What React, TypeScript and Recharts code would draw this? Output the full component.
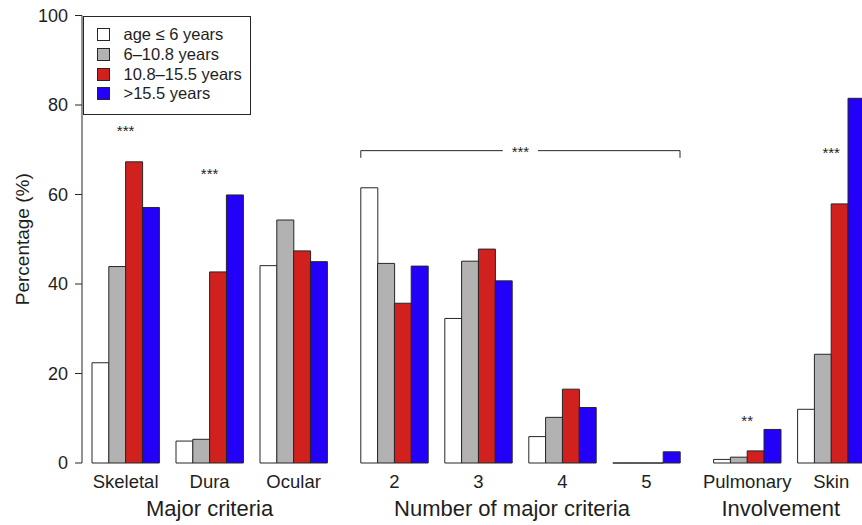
import React from 'react';
import { BarChart, Bar, XAxis, YAxis, ReferenceLine, ReferenceDot, Legend } from 'recharts';

// ---------- data ----------
const SECTION_TITLES = ['Major criteria', 'Number of major criteria', 'Involvement'];
const SECTION_CATEGORIES = [
  ['Skeletal', 'Dura', 'Ocular'],
  ['2', '3', '4', '5'],
  ['Pulmonary', 'Skin'],
];
const SERIES_NAMES = ['age \u2264 6 years', '6\u201310.8 years', '10.8\u201315.5 years', '>15.5 years'];
const AGE_LE_6 = [22.4, 4.9, 44.1, 61.5, 32.3, 5.9, 0, 0.8, 12.0];
const AGE_6_TO_10_8 = [43.9, 5.3, 54.3, 44.6, 45.1, 10.2, 0, 1.3, 24.3];
const AGE_10_8_TO_15_5 = [67.3, 42.7, 47.4, 35.7, 47.8, 16.5, 0, 2.7, 57.9];
const AGE_GT_15_5 = [57.1, 59.9, 45.0, 44.0, 40.7, 12.4, 2.5, 7.5, 81.5];
const Y_TICKS = [0, 20, 40, 60, 80, 100];
const GROUP_STARS = [
  { category: 'Skeletal', text: '***', y: 74.35 },
  { category: 'Dura', text: '***', y: 64.6 },
  { category: 'Pulmonary', text: '**', y: 9.5 },
  { category: 'Skin', text: '***', y: 69.3 },
];
const BRACKET = { from: '2', to: '5', text: '***', lineY: 69.8, tickY: 68.2, textY: 69.5 };

// ---------- style / layout ----------
const FONT = '"Liberation Sans", Arial, Helvetica, sans-serif';
const TEXT = '#1e1e1e';
const EDGE = '#262626';
const COLORS = ['#ffffff', '#b2b2b2', '#d0211f', '#2300f7'];
const SLOT_W = 16.8;
const AXIS_X = 82;
const PAD_LEFT = 10;
const PLOT_TOP = 15.5;
const TICK_AXIS_H = 26;
const TITLE_AXIS_H = 36;
const HEIGHT = 525;
const TITLE_POS = [7, 25, 41];
const BRACKET_GAP = 1.05;

const SERIES_VALUES = [AGE_LE_6, AGE_6_TO_10_8, AGE_10_8_TO_15_5, AGE_GT_15_5];
const CATEGORIES = SECTION_CATEGORIES.flat();

type Slot = { key: string; pos: number; value: number | null; series: number };
const slots: Slot[] = [];
const pushSlot = (value: number | null, series: number) =>
  slots.push({ key: `s${slots.length}`, pos: slots.length + 0.5, value, series });
const groupStart: Record<string, number> = {};
let ci = 0;
SECTION_CATEGORIES.forEach((cats, si) => {
  if (si > 0) pushSlot(null, -1);
  cats.forEach((cat) => {
    groupStart[cat] = slots.length;
    SERIES_VALUES.forEach((vals, k) => pushSlot(vals[ci], k));
    pushSlot(null, -1);
    ci++;
  });
});
slots.pop();
const N = slots.length;
const CHART_W = Math.ceil(AXIS_X + PAD_LEFT + N * SLOT_W);
const RIGHT_M = CHART_W - (AXIS_X + PAD_LEFT + N * SLOT_W);

const groupCenter = (c: string) => groupStart[c] + SERIES_NAMES.length / 2;
const CENTERS = CATEGORIES.map(groupCenter);
const centerLabel = new Map<number, string>(CATEGORIES.map((c) => [groupCenter(c), c]));
const titleLabel = new Map<number, string>(TITLE_POS.map((p, i) => [p, SECTION_TITLES[i]]));

const bracketL = groupStart[BRACKET.from];
const bracketR = groupStart[BRACKET.to] + SERIES_NAMES.length;
const bracketMid = (bracketL + bracketR) / 2;

const BarShape = (props: any) => {
  const { x, y, width, height, payload } = props;
  if (!payload || payload.value == null || payload.series < 0) return <g />;
  if (!Number.isFinite(x) || !Number.isFinite(y)) return <g />;
  const h = Number.isFinite(height) ? height : 0;
  const d = `M${x},${y}h${width}v${h}h${-width}Z`;
  return <path d={d} fill={COLORS[payload.series]} stroke={EDGE} strokeWidth={1} />;
};

const LegendBox = () => (
  <div
    style={{
      width: 168,
      height: 99,
      border: `1px solid ${EDGE}`,
      background: '#fff',
      boxSizing: 'border-box',
      fontFamily: FONT,
      fontSize: 16.5,
      color: TEXT,
      padding: '8.5px 0 0 13px',
    }}
  >
    {SERIES_NAMES.map((s, i) => (
      <div key={s} style={{ display: 'flex', alignItems: 'center', height: 19.7, whiteSpace: 'nowrap' }}>
        <span
          style={{
            display: 'inline-block',
            width: 13,
            height: 13,
            border: `1px solid ${EDGE}`,
            background: COLORS[i],
            boxSizing: 'border-box',
            marginRight: 14,
          }}
        />
        <span>{s}</span>
      </div>
    ))}
  </div>
);

const yLabel = (props: any) => {
  const vb = props.viewBox || { x: 0, y: PLOT_TOP, width: AXIS_X, height: 447.5 };
  const cx = vb.x + 28.6;
  const cy = vb.y + vb.height / 2;
  return (
    <text x={cx} y={cy} transform={`rotate(-90 ${cx} ${cy})`} textAnchor="middle" fontSize={19} fontFamily={FONT} fill={TEXT}>
      Percentage (%)
    </text>
  );
};

export default function App() {
  return (
    <div style={{ position: 'absolute', left: 0, top: 0, width: 862, height: HEIGHT, overflow: 'hidden', background: '#fff' }}>
      <BarChart
        width={CHART_W}
        height={HEIGHT}
        data={slots}
        margin={{ top: PLOT_TOP, right: RIGHT_M, bottom: 0, left: 0 }}
        barCategoryGap={0}
        barGap={0}
      >
        <XAxis xAxisId="slots" dataKey="key" type="category" hide height={0} padding={{ left: PAD_LEFT, right: 0 }} />
        <XAxis
          xAxisId="ticks"
          dataKey="pos"
          type="number"
          domain={[0, N]}
          allowDataOverflow
          ticks={CENTERS}
          interval={0}
          tickFormatter={(v: number) => centerLabel.get(v) ?? ''}
          axisLine={false}
          tickLine={false}
          tickSize={0}
          tickMargin={12}
          height={TICK_AXIS_H}
          padding={{ left: PAD_LEFT, right: 0 }}
          tick={{ fontSize: 18.5, fill: TEXT, fontFamily: FONT }}
        />
        <XAxis
          xAxisId="titles"
          dataKey="pos"
          type="number"
          domain={[0, N]}
          allowDataOverflow
          ticks={TITLE_POS}
          interval={0}
          tickFormatter={(v: number) => titleLabel.get(v) ?? ''}
          axisLine={false}
          tickLine={false}
          tickSize={0}
          tickMargin={11.4}
          height={TITLE_AXIS_H}
          padding={{ left: PAD_LEFT, right: 0 }}
          tick={{ fontSize: 22, fill: TEXT, fontFamily: FONT }}
        />
        <YAxis
          width={AXIS_X}
          domain={[0, 100]}
          ticks={Y_TICKS}
          interval={0}
          tickSize={7}
          tickMargin={7}
          axisLine={{ stroke: EDGE }}
          tickLine={{ stroke: EDGE }}
          tick={{ fontSize: 18, fill: TEXT, fontFamily: FONT }}
          label={{ content: yLabel }}
        />
        <Legend
          layout="vertical"
          align="center"
          verticalAlign="middle"
          content={() => <LegendBox />}
          wrapperStyle={{ left: AXIS_X + 0.5, top: PLOT_TOP, right: 'auto', bottom: 'auto', width: 168, height: 99 }}
        />
        <Bar xAxisId="slots" dataKey="value" isAnimationActive={false} shape={BarShape} />
        {GROUP_STARS.map((s) => (
          <ReferenceDot
            key={s.category}
            xAxisId="ticks"
            x={groupCenter(s.category)}
            y={s.y}
            r={1}
            fill="none"
            stroke="none"
            label={{ value: s.text, position: 'center', fontSize: 15, fill: TEXT, fontFamily: FONT }}
          />
        ))}
        <ReferenceLine xAxisId="ticks" stroke={EDGE} segment={[{ x: bracketL, y: BRACKET.tickY }, { x: bracketL, y: BRACKET.lineY }]} />
        <ReferenceLine xAxisId="ticks" stroke={EDGE} segment={[{ x: bracketL, y: BRACKET.lineY }, { x: bracketMid - BRACKET_GAP, y: BRACKET.lineY }]} />
        <ReferenceLine xAxisId="ticks" stroke={EDGE} segment={[{ x: bracketMid + BRACKET_GAP, y: BRACKET.lineY }, { x: bracketR, y: BRACKET.lineY }]} />
        <ReferenceLine xAxisId="ticks" stroke={EDGE} segment={[{ x: bracketR, y: BRACKET.lineY }, { x: bracketR, y: BRACKET.tickY }]} />
        <ReferenceDot
          xAxisId="ticks"
          x={bracketMid}
          y={BRACKET.textY}
          r={1}
          fill="none"
          stroke="none"
          label={{ value: BRACKET.text, position: 'center', fontSize: 15, fill: TEXT, fontFamily: FONT }}
        />
      </BarChart>
    </div>
  );
}
